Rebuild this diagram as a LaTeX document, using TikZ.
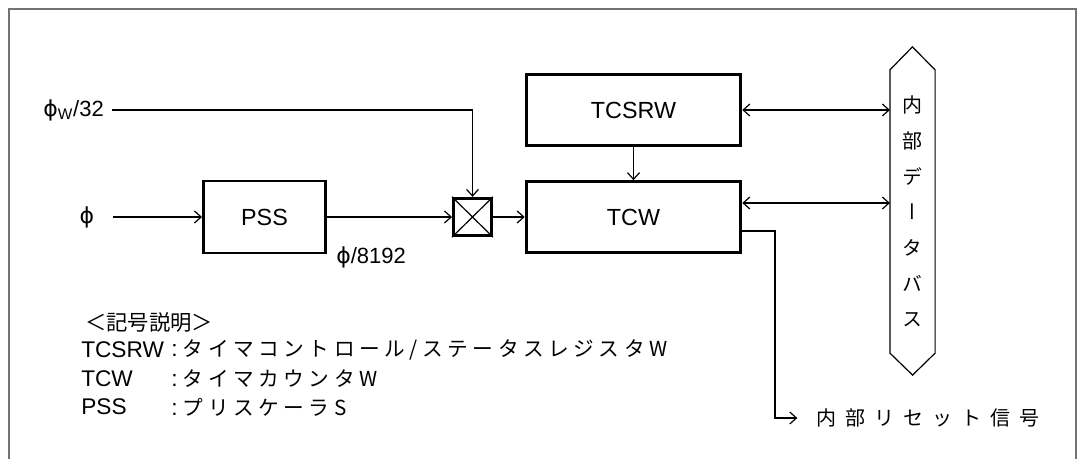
\documentclass[tikz,border=0pt]{standalone}
\usepackage{fontspec}
\setmainfont{Liberation Sans}
\newfontfamily\jp[LetterSpace=45]{Noto Sans CJK JP}
\newfontfamily\jpl[LetterSpace=22]{Noto Sans CJK JP}
\newfontfamily\jpn{Noto Sans CJK JP}
\newfontfamily\jpv[RawFeature=+vert]{Noto Sans CJK JP}
\newfontfamily\dv{DejaVu Sans}
\newcommand{\vphi}{{\dv ϕ}}
\usetikzlibrary{arrows.meta,positioning,calc}
\tikzset{
  blk/.style={draw, line width=2.2pt, inner sep=0pt, font=\fontsize{17.5}{20}\selectfont},
  wire/.style={line width=0.9pt},
  arr/.style={wire, -{Straight Barb[length=5pt,width=9pt]}},
  biarr/.style={wire, {Straight Barb[length=5pt,width=9pt]}-{Straight Barb[length=5pt,width=9pt]}},
  lbl/.style={inner sep=0pt, font=\fontsize{16.5}{19}\selectfont},
  legend/.style={inner sep=0pt, anchor=west, font=\fontsize{17}{19}\selectfont},
  frame/.style={line width=1.2pt, draw=black!55},
}
\begin{document}
\begin{tikzpicture}[x=0.75pt,y=-0.75pt]
\useasboundingbox (0,0) rectangle (1077,459);
\draw[frame] (9,459) -- (9,9) -- (1076,9) -- (1076,459);
% blocks
\node[blk, minimum width=161pt, minimum height=53pt] (tcsrw) at (633.5,110) {TCSRW};
\node[blk, minimum width=161pt, minimum height=53pt] (tcw) at (633.5,217) {TCW};
\node[blk, minimum width=91.5pt, minimum height=54pt] (pss) at (264.5,217) {PSS};
\node[blk, minimum width=28.5pt, minimum height=28pt] (sel) at (472.5,217) {};
\draw[wire] (sel.north west) -- (sel.south east) (sel.north east) -- (sel.south west);
% internal data bus
\node[inner sep=0pt, minimum width=33.5pt, minimum height=212pt, align=center,
      font=\jpv\fontsize{15}{26.8}\selectfont] (bus) at (912.5,211.5) {内\\部\\デ\\ー\\タ\\バ\\ス};
\draw[wire] (bus.south west) -- (bus.north west) -- ++(22.5,-23) -- (bus.north east)
  -- (bus.south east) -- ++(-22.5,22) -- cycle;
% clock inputs
\node[lbl, anchor=east] (phiw) at (104,110) {\vphi\textsubscript{W}/32};
\node[lbl] (phi) at (87,217) {\vphi};
\node[lbl, anchor=west] (rate) at (336,257) {\vphi/8192};
\draw[arr] ([xshift=6pt]phiw.east) -| (sel.north);
\draw[arr] ([xshift=14pt]phi.east) -- (pss.west);
\draw[arr] (pss) -- (sel);
\draw[arr] (sel) -- (tcw);
\draw[arr] (tcsrw) -- (tcw);
\draw[biarr] (tcsrw.east) -- (tcsrw.east -| bus.west);
\draw[biarr] ([yshift=10.5pt]tcw.east) -- ([yshift=10.5pt]tcw.east -| bus.west);
% reset output
\node[anchor=west, inner sep=0pt, font=\jp\fontsize{15}{18}\selectfont] (rst) at (816,418) {内部リセット信号};
\coordinate (bend) at (775,418);
\draw[arr] ([yshift=-10.5pt]tcw.east) -| (bend) -- ([xshift=-14pt]rst.west);
% legend
\node[legend, font=\jpn\fontsize{16}{18}\selectfont] (lgd) at (85,322) {＜記号説明＞};
\foreach \y/\ab/\d in {350/TCSRW/{タイマコントロール/ステータスレジスタW}, 379/TCW/{タイマカウンタW}, 407/PSS/{プリスケーラS}}{
  \node[legend] (key-\ab) at (81,\y) {\ab};
  \node[legend] (desc-\ab) at (171,\y) {:\hspace{4pt}{\jpl\fontsize{15.5}{18}\selectfont \d}};
}
\end{tikzpicture}
\end{document}
